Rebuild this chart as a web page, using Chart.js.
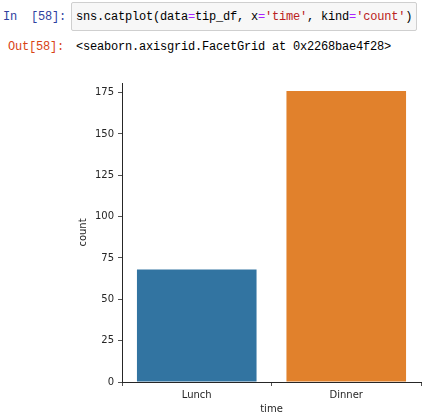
<!DOCTYPE html>
<html>
<head>
<meta charset="utf-8">
<script src="https://cdn.jsdelivr.net/npm/chart.js@4"></script>
<style>
    body { margin: 0; background: #fff; width: 423px; height: 415px; overflow: hidden; position: relative; }
    .mono { font-family: 'Liberation Mono', 'DejaVu Sans Mono', monospace; font-size: 12px; letter-spacing: -0.2px; white-space: pre; position: absolute; }
    #inPrompt { left: 3px; top: 10px; color: #303F9F; }
    #codeBox { position: absolute; left: 71px; top: 2px; width: 346px; height: 29px; background: #f7f7f7; border: 1px solid #cfcfcf; border-radius: 2px; box-sizing: border-box; }
    #code { left: 76px; top: 10px; color: #000; }
    .op { color: #AA22FF; }
    .str { color: #BA2121; }
    #outPrompt { left: 8px; top: 40px; color: #D84315; }
    #outText { left: 76px; top: 40px; color: #000; }
    #chartWrap { position: absolute; left: 0; top: 60px; width: 423px; height: 355px; }
</style>
</head>
<body>
<div id="inPrompt" class="mono">In  [58]:</div>
<div id="codeBox"></div>
<div id="code" class="mono">sns.catplot(data<span class="op">=</span>tip_df, x<span class="op">=</span><span class="str">'time'</span>, kind<span class="op">=</span><span class="str">'count'</span>)</div>
<div id="outPrompt" class="mono">Out[58]:</div>
<div id="outText" class="mono">&lt;seaborn.axisgrid.FacetGrid at 0x2268bae4f28&gt;</div>
<div id="chartWrap"><canvas id="countChart"></canvas></div>

<script>
// tips dataset, counts per meal time
var categories = ['Lunch', 'Dinner'];
var counts = [68, 176];
var barColors = ['#3274a1', '#e1812c'];
var yTicks = [0, 25, 50, 75, 100, 125, 150, 175];

document.addEventListener('DOMContentLoaded', function() {
    var ctx = document.getElementById('countChart').getContext('2d');
    var tickFont = { size: 10, family: "'DejaVu Sans', sans-serif" };

    new Chart(ctx, {
        type: 'bar',
        data: {
            labels: categories,
            datasets: [{
                data: counts,
                backgroundColor: barColors,
                borderWidth: 0,
                barPercentage: 0.8,
                categoryPercentage: 1.0
            }]
        },
        options: {
            responsive: true,
            maintainAspectRatio: false,
            animation: false,
            layout: {
                padding: { top: 23, right: 2, bottom: 0, left: 0 }
            },
            plugins: {
                legend: { display: false },
                tooltip: { enabled: false }
            },
            scales: {
                x: {
                    grid: {
                        drawOnChartArea: false,
                        drawTicks: true,
                        tickLength: 4,
                        tickColor: '#262626',
                        tickWidth: 0.8
                    },
                    border: { display: true, color: '#262626', width: 1 },
                    ticks: { color: '#262626', font: tickFont, padding: 3, maxRotation: 0 },
                    title: {
                        display: true,
                        text: 'time',
                        color: '#262626',
                        font: tickFont,
                        padding: { top: 0, bottom: 0 }
                    },
                    afterFit: function(scale) { scale.height = 33; }
                },
                y: {
                    min: 0,
                    max: 180.8,
                    afterBuildTicks: function(scale) {
                        scale.ticks = yTicks.map(function(v) { return { value: v }; });
                    },
                    grid: {
                        drawOnChartArea: false,
                        drawTicks: true,
                        tickLength: 4,
                        tickColor: '#262626',
                        tickWidth: 0.8
                    },
                    border: { display: true, color: '#262626', width: 1 },
                    ticks: { color: '#262626', font: tickFont, padding: 4 },
                    title: {
                        display: true,
                        text: 'count',
                        color: '#262626',
                        font: tickFont,
                        padding: { top: 77, bottom: 0 }
                    },
                    afterFit: function(scale) { scale.width = 122; }
                }
            }
        }
    });
});
</script>
</body>
</html>
